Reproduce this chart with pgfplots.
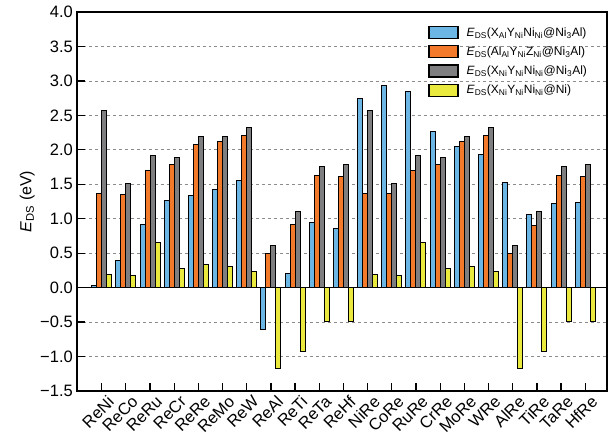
\documentclass[border=0pt]{standalone}
\usepackage{fontspec}
\setmainfont{Liberation Sans}
\usepackage{pgfplots}
\usepackage{pgfplotstable}
\pgfplotsset{compat=1.18}

\definecolor{barblue}{RGB}{108,182,230}
\definecolor{barorange}{RGB}{243,122,42}
\definecolor{bargray}{RGB}{126,126,128}
\definecolor{baryellow}{RGB}{234,234,62}

% Dimer segregation energies (eV) for each X-Y pair
\pgfplotstableread{
x  A      B     C     D
0   0.03  1.36  2.57  0.19
1   0.40  1.35  1.51  0.17
2   0.91  1.70  1.92  0.66
3   1.26  1.78  1.89  0.28
4   1.33  2.07  2.19  0.33
5   1.43  2.12  2.20  0.30
6   1.56  2.21  2.32  0.23
7  -0.61  0.49  0.61 -1.17
8   0.21  0.91  1.11 -0.92
9   0.95  1.63  1.76 -0.49
10  0.86  1.61  1.78 -0.49
11  2.75  1.36  2.57  0.19
12  2.93  1.36  1.51  0.17
13  2.85  1.70  1.92  0.66
14  2.27  1.79  1.89  0.28
15  2.05  2.12  2.20  0.30
16  1.93  2.21  2.32  0.23
17  1.52  0.49  0.61 -1.17
18  1.06  0.90  1.11 -0.92
19  1.22  1.63  1.76 -0.49
20  1.24  1.61  1.78 -0.49
}\dsdata

\begin{document}
\begin{tikzpicture}
\begin{axis}[
  at={(0,0)}, anchor=south west,
  scale only axis, width=530bp, height=379bp,
  xmin=-1.02, xmax=20.9, ymin=-1.5, ymax=4,
  ybar=0pt, bar width=5bp,
  xtick={0,...,20},
  xticklabels={ReNi,ReCo,ReRu,ReCr,ReRe,ReMo,ReW,ReAl,ReTi,ReTa,ReHf,NiRe,CoRe,RuRe,CrRe,MoRe,WRe,AlRe,TiRe,TaRe,HfRe},
  ytick={-1.5,-1,-0.5,0,0.5,1,1.5,2,2.5,3,3.5,4},
  yticklabels={−1.5,−1.0,−0.5,0.0,0.5,1.0,1.5,2.0,2.5,3.0,3.5,4.0},
  tick align=inside, xtick pos=bottom, ytick pos=left,
  major tick length=8bp,
  every tick/.style={black, line width=1.3bp},
  axis line style={line width=1.3bp},
  ymajorgrids,
  major grid style={dashed, black!45, line width=0.7bp},
  extra y ticks={0}, extra y tick labels={},
  extra y tick style={major grid style={solid, black, line width=1.1bp}, major tick length=0pt},
  tick label style={font=\fontsize{16.5bp}{19bp}\selectfont},
  yticklabel style={inner sep=2bp, xshift=-2bp},
  xticklabel style={rotate=45, anchor=north east, inner sep=1bp, yshift=-5bp, xshift=2bp},
  ylabel={\textit{E}\textsubscript{DS} (eV)},
  ylabel style={font=\fontsize{16bp}{19bp}\selectfont, at={(axis description cs:-0.094,0.5)}, anchor=center},
  legend style={draw=none, fill=none, at={(0.657,0.970)}, anchor=north west,
    font=\fontsize{12bp}{14bp}\selectfont, row sep=5bp, legend cell align=left,
    /tikz/every odd column/.append style={column sep=6bp}},
  legend image code/.code={\draw[#1, line width=1.3bp] (-8bp,-6bp) rectangle (21bp,6bp);},
]
\addplot[fill=barblue, draw=black, line width=1bp] table[x=x, y=A] {\dsdata};
\addplot[fill=barorange, draw=black, line width=1bp] table[x=x, y=B] {\dsdata};
\addplot[fill=bargray, draw=black, line width=1bp] table[x=x, y=C] {\dsdata};
\addplot[fill=baryellow, draw=black, line width=1bp] table[x=x, y=D] {\dsdata};
\legend{
  \textit{E}\textsubscript{DS}(X\textsubscript{Al}Y\textsubscript{Ni}Ni\textsubscript{Ni}@Ni\textsubscript{3}Al),
  \textit{E}\textsubscript{DS}(Al\textsubscript{Al}Y\textsubscript{Ni}Z\textsubscript{Ni}@Ni\textsubscript{3}Al),
  \textit{E}\textsubscript{DS}(X\textsubscript{Ni}Y\textsubscript{Ni}Ni\textsubscript{Ni}@Ni\textsubscript{3}Al),
  \textit{E}\textsubscript{DS}(X\textsubscript{Ni}Y\textsubscript{Ni}Ni\textsubscript{Ni}@Ni)}
\end{axis}
\pgfresetboundingbox
\path[use as bounding box] (-77bp,-53bp) rectangle (535bp,391bp);
\end{tikzpicture}
\end{document}
